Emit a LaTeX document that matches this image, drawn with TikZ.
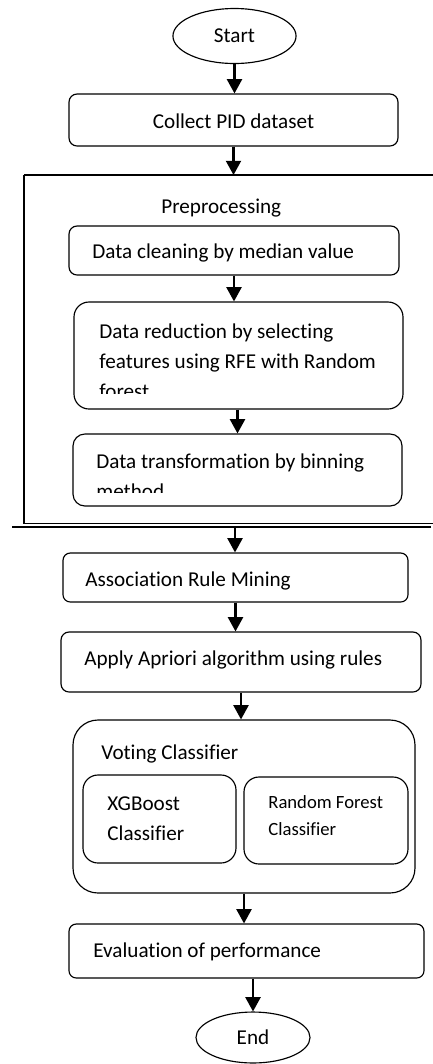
\documentclass[tikz,border=0pt]{standalone}
\usepackage{fontspec}
\setmainfont{Carlito}[Ligatures={NoCommon}, RawFeature={-liga;-clig;-dlig}]
\usepackage{tikz}
\usetikzlibrary{arrows.meta}
\usetikzlibrary{shapes,positioning,fit}

\tikzset{
  box/.style={draw, line width=0.6pt, inner sep=0pt, rounded corners=4.2pt},
  oval/.style={draw, ellipse, line width=0.6pt, inner sep=0pt},
  txt/.style={inner sep=0pt, anchor=base west, font=\fontsize{11}{14}\selectfont},
  small/.style={txt, font=\fontsize{9.7}{12}\selectfont},
  flow/.style={line width=1.1pt, -{Triangle[length=7.4pt,width=7.8pt]}},
  frame/.style={line width=0.7pt}
}

\begin{document}
\begin{tikzpicture}[x=0.52pt, y=-0.52pt]
	\useasboundingbox (0,0) rectangle (433,1064);
	\node[oval, minimum width=64pt, minimum height=28.6pt, font=\fontsize{11}{14}\selectfont] (start) at (234.5,36) {Start};
	\node[box, fit={(69,94) (398,146)}] (collect) {};
	\node[txt, anchor=base] (collectt) at (233.5,128) {Collect PID dataset};
	\draw[frame] (24,175) -- (433,175);
	\draw[frame, line width=1pt] (24,175) -- (24,524);
	\draw[frame] (24,523.5) -- (433,523.5);
	\draw[frame] (12,527) -- (431,527);
	\coordinate (pretop) at (234,175);
	\coordinate (prebot) at (235,527);
	\node[txt] (pre) at (161,213) {Preprocessing};
	\node[box, fit={(69,226) (399,275)}] (clean) {};
	\node[txt] (cleant) at (92,258) {Data cleaning by median value};
	\node[box, rounded corners=7.8pt, fit={(74,302) (403,409)}] (reduce) {};
	\node[txt] (reducea) at (99,338) {Data reduction by selecting};
	\node[txt] (reduceb) at (99,368.3) {features using RFE with Random};
	\begin{scope}
		\clip (74,302) rectangle (403,393);
		\node[txt] (reducec) at (99,398.6) {forest};
	\end{scope}
	\node[box, rounded corners=6.2pt, fit={(73,434) (402,506)}] (trans) {};
	\node[txt] (transa) at (96,468) {Data transformation by binning};
	\begin{scope}
		\clip (73,434) rectangle (402,492);
		\node[txt] (transb) at (96,498.5) {method};
	\end{scope}
	\node[box, rounded corners=3.8pt, fit={(63,553) (408,602)}] (assoc) {};
	\node[txt] (assoct) at (85,586) {Association Rule Mining};
	\node[box, fit={(61,632) (421,692)}] (apriori) {};
	\node[txt] (apriorit) at (84,665) {Apply Apriori algorithm using rules};
	\node[box, rounded corners=13pt, fit={(73,720) (415,893)}] (voting) {};
	\node[txt] (votingt) at (101,759) {Voting Classifier};
	\node[box, rounded corners=7.8pt, fit={(83,775) (236,863)}] (xgb) {};
	\node[txt] (xgba) at (107,810) {XGBoost};
	\node[txt] (xgbb) at (107,840) {Classifier};
	\node[box, rounded corners=7.8pt, fit={(244,777) (408,864)}] (rf) {};
	\node[small] (rfa) at (268,808) {Random Forest};
	\node[small] (rfb) at (268,835) {Classifier};
	\node[box, rounded corners=3.8pt, fit={(69,924) (424,978)}] (eval) {};
	\node[txt] (evalt) at (93,957) {Evaluation of performance};
	\node[oval, minimum width=59.3pt, minimum height=26.5pt, font=\fontsize{11}{14}\selectfont] (end) at (253,1037.5) {End};
	\draw[flow] (start.south) -- (start.south |- collect.north);
	\draw[flow] (collect.south) -- (collect.south |- pretop);
	\draw[flow] (clean.south) -- (clean.south |- reduce.north);
	\draw[flow] (reduce.south -| trans.north) -- (trans.north);
	\draw[flow] (prebot) -- (prebot |- assoc.north);
	\draw[flow] (assoc.south) -- (assoc.south |- apriori.north);
	\draw[flow] (apriori.south) -- (apriori.south |- voting.north);
	\draw[flow] (voting.south) -- (voting.south |- eval.north);
	\draw[flow] (eval.south -| end.north) -- (end.north);
\end{tikzpicture}
\end{document}
